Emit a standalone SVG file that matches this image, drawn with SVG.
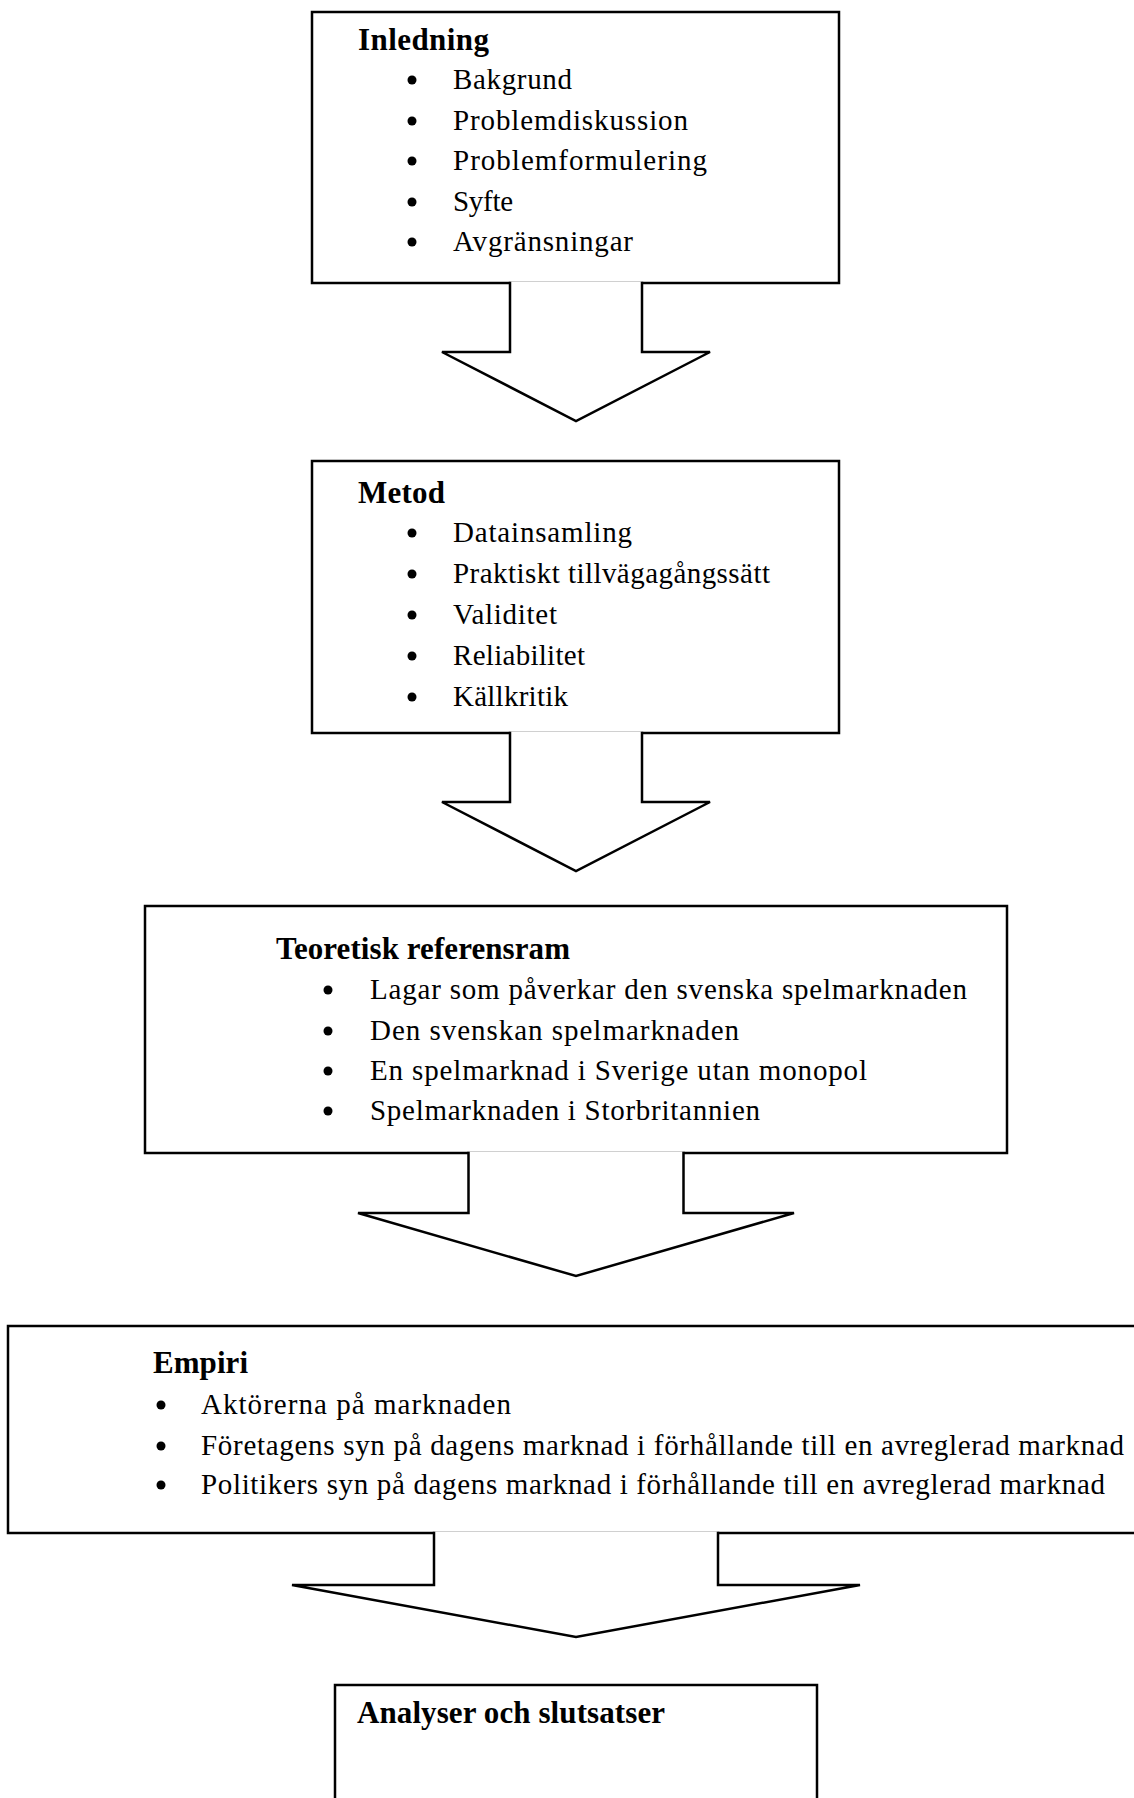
<svg xmlns="http://www.w3.org/2000/svg" width="1134" height="1798" viewBox="0 0 1134 1798" font-family="Liberation Serif, Times New Roman, Times, serif">
<style>
.box{fill:#fff;stroke:#000;stroke-width:2.5}
.arrow{fill:#fff;stroke:#000;stroke-width:2.5;stroke-linejoin:miter}
text{font-family:'Liberation Serif','Times New Roman',Times,serif;font-size:29px;fill:#000}
.h{font-weight:bold;font-size:31px}
.dot{fill:#000}
</style>
<rect width="1134" height="1798" fill="#fff"/>
<g id="node-inledning">
<rect class="box" x="312" y="12" width="527" height="271"/>
<text class="h" x="358" y="50" textLength="131" lengthAdjust="spacing">Inledning</text>
<circle class="dot" cx="412" cy="80" r="4.5"/><text x="453" y="89" textLength="119" lengthAdjust="spacing">Bakgrund</text>
<circle class="dot" cx="412" cy="121" r="4.5"/><text x="453" y="130" textLength="235" lengthAdjust="spacing">Problemdiskussion</text>
<circle class="dot" cx="412" cy="161" r="4.5"/><text x="453" y="170" textLength="254" lengthAdjust="spacing">Problemformulering</text>
<circle class="dot" cx="412" cy="202" r="4.5"/><text x="453" y="211" textLength="60" lengthAdjust="spacing">Syfte</text>
<circle class="dot" cx="412" cy="242" r="4.5"/><text x="453" y="251" textLength="180" lengthAdjust="spacing">Avgränsningar</text>
</g>
<g id="node-metod">
<rect class="box" x="312" y="461" width="527" height="272"/>
<text class="h" x="358" y="503" textLength="87" lengthAdjust="spacing">Metod</text>
<circle class="dot" cx="412" cy="533" r="4.5"/><text x="453" y="542" textLength="179" lengthAdjust="spacing">Datainsamling</text>
<circle class="dot" cx="412" cy="574" r="4.5"/><text x="453" y="583" textLength="317" lengthAdjust="spacing">Praktiskt tillvägagångssätt</text>
<circle class="dot" cx="412" cy="615" r="4.5"/><text x="453" y="624" textLength="104" lengthAdjust="spacing">Validitet</text>
<circle class="dot" cx="412" cy="656" r="4.5"/><text x="453" y="665" textLength="132" lengthAdjust="spacing">Reliabilitet</text>
<circle class="dot" cx="412" cy="697" r="4.5"/><text x="453" y="706" textLength="115" lengthAdjust="spacing">Källkritik</text>
</g>
<g id="node-teoretisk">
<rect class="box" x="145" y="906" width="862" height="247"/>
<text class="h" x="276" y="959" textLength="294" lengthAdjust="spacing">Teoretisk referensram</text>
<circle class="dot" cx="328" cy="990" r="4.5"/><text x="370" y="999" textLength="597" lengthAdjust="spacing">Lagar som påverkar den svenska spelmarknaden</text>
<circle class="dot" cx="328" cy="1031" r="4.5"/><text x="370" y="1040" textLength="369" lengthAdjust="spacing">Den svenskan spelmarknaden</text>
<circle class="dot" cx="328" cy="1071" r="4.5"/><text x="370" y="1080" textLength="497" lengthAdjust="spacing">En spelmarknad i Sverige utan monopol</text>
<circle class="dot" cx="328" cy="1111" r="4.5"/><text x="370" y="1120" textLength="390" lengthAdjust="spacing">Spelmarknaden i Storbritannien</text>
</g>
<g id="node-empiri">
<rect class="box" x="8" y="1326" width="1140" height="207"/>
<text class="h" x="153" y="1373" textLength="95" lengthAdjust="spacing">Empiri</text>
<circle class="dot" cx="161" cy="1405" r="4.5"/><text x="201" y="1414" textLength="310" lengthAdjust="spacing">Aktörerna på marknaden</text>
<circle class="dot" cx="161" cy="1446" r="4.5"/><text x="201" y="1455" textLength="923" lengthAdjust="spacing">Företagens syn på dagens marknad i förhållande till en avreglerad marknad</text>
<circle class="dot" cx="161" cy="1485" r="4.5"/><text x="201" y="1494" textLength="904" lengthAdjust="spacing">Politikers syn på dagens marknad i förhållande till en avreglerad marknad</text>
</g>
<g id="node-analyser">
<rect class="box" x="335" y="1685" width="482" height="200"/>
<text class="h" x="357" y="1723" textLength="308" lengthAdjust="spacing">Analyser och slutsatser</text>
</g>
<g id="connectors">
<path class="arrow" d="M510,281.75 V352 H442 L576,421 L710,352 H642 V281.75"/>
<path class="arrow" d="M510,731.75 V802 H442 L576,871 L710,802 H642 V731.75"/>
<path class="arrow" d="M468.5,1151.75 V1213 H358 L576,1276 L794,1213 H683.5 V1151.75"/>
<path class="arrow" d="M434,1531.75 V1585 H292 L576,1637 L860,1585 H718 V1531.75"/>
</g>
</svg>
